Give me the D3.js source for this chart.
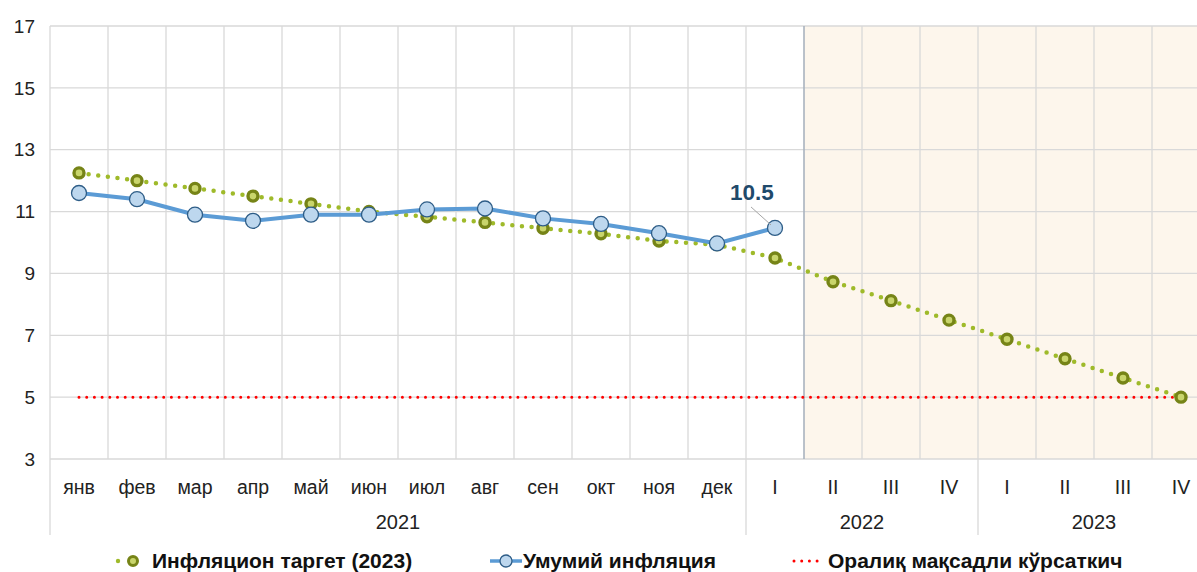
<!DOCTYPE html>
<html><head><meta charset="utf-8">
<script src="https://cdn.jsdelivr.net/npm/d3@7"></script>
<style>html,body{margin:0;padding:0;background:#fff;overflow:hidden}text{font-family:"Liberation Sans",Arial,sans-serif}</style>
</head><body><svg id="c" width="1197" height="572"></svg>
<script>
const categories = ["янв","фев","мар","апр","май","июн","июл","авг","сен","окт","ноя","дек","I","II","III","IV","I","II","III","IV"];
const years = [{label:"2021", start:0, end:12},{label:"2022", start:12, end:16},{label:"2023", start:16, end:20}];
const targetValues = [12.25,12.0,11.75,11.5,11.25,11.0,10.83,10.65,10.46,10.28,10.05,9.93,9.5,8.73,8.12,7.49,6.87,6.24,5.62,5.0];
const inflationValues = [11.6,11.4,10.9,10.7,10.9,10.9,11.07,11.1,10.78,10.6,10.3,9.97,10.47];
const corridorValues = Array(20).fill(5);
const yTicks = [3,5,7,9,11,13,15,17];
const forecastStart = 13;
const legendLabels = ["Инфляцион таргет (2023)","Умумий инфляция","Оралиқ мақсадли кўрсаткич"];

const svg = d3.select("#c");
const mLeft = 50, mTop = 26, mBottom = 459, bandW = 58;
const x = d3.scaleBand().domain(d3.range(categories.length)).range([mLeft, mLeft + bandW*categories.length]).paddingInner(0).paddingOuter(0);
const y = d3.scaleLinear().domain([3,17]).range([mBottom, mTop]);
const cx = i => x(i) + x.bandwidth()/2;
const mRight = x.range()[1];

// forecast shading
svg.append("rect").attr("x", x(forecastStart)).attr("y", mTop).attr("width", mRight - x(forecastStart)).attr("height", mBottom - mTop).attr("fill", "#fdf6ec");

// grid
const grid = svg.append("g");
grid.selectAll("line.h").data(yTicks).join("line").attr("x1", mLeft).attr("x2", mRight).attr("y1", d=>y(d)).attr("y2", d=>y(d)).attr("stroke", "#d9d9d9").attr("stroke-width", 1.3);
grid.selectAll("line.v").data(d3.range(1, categories.length)).join("line").attr("x1", d=>x(d)).attr("x2", d=>x(d)).attr("y1", mTop).attr("y2", mBottom).attr("stroke", d => d===forecastStart ? "#a9b3bf" : "#d9d9d9").attr("stroke-width", d => d===forecastStart ? 1.6 : 1.3);
const seps = [0, years[1].start, years[2].start];
grid.selectAll("line.s").data(seps).join("line").attr("x1", d=>x(d)).attr("x2", d=>x(d)).attr("y1", d => d===0 ? mTop : mBottom).attr("y2", 535).attr("stroke", "#d9d9d9").attr("stroke-width", 1.3);

// y axis labels
svg.append("g").selectAll("text").data(yTicks).join("text").attr("x", 35).attr("y", d=>y(d)).attr("dy", "0.35em").attr("text-anchor", "end").attr("font-size", 19).attr("fill", "#222").text(d=>d);

// category labels
svg.append("g").selectAll("text").data(categories).join("text").attr("x", (d,i)=>cx(i)).attr("y", 494).attr("text-anchor", "middle").attr("font-size", 19.5).attr("fill", "#222").text(d=>d);
svg.append("g").selectAll("text").data(years).join("text").attr("x", d => (x(d.start) + (d.end < categories.length ? x(d.end) : mRight))/2).attr("y", 529).attr("text-anchor", "middle").attr("font-size", 20).attr("fill", "#222").text(d=>d.label);

// corridor line
const line = d3.line().x((d,i)=>cx(i)).y(d=>y(d));
svg.append("path").attr("d", line(corridorValues)).attr("fill","none").attr("stroke","#ff0000").attr("stroke-width",3).attr("stroke-linecap","round").attr("stroke-dasharray","0 7.7");

// target line
svg.append("path").attr("d", line(targetValues)).attr("fill","none").attr("stroke","#9fba2a").attr("stroke-width",4.5).attr("stroke-linecap","round").attr("stroke-dasharray","0 9.7");
svg.append("g").selectAll("circle").data(targetValues).join("circle").attr("cx",(d,i)=>cx(i)).attr("cy",d=>y(d)).attr("r",5).attr("fill","#c9d56c").attr("stroke","#768417").attr("stroke-width",3.4);

// inflation line
svg.append("path").attr("d", line(inflationValues)).attr("fill","none").attr("stroke","#5b9bd5").attr("stroke-width",4);
svg.append("g").selectAll("circle").data(inflationValues).join("circle").attr("cx",(d,i)=>cx(i)).attr("cy",d=>y(d)).attr("r",7.5).attr("fill","#bdd7ee").attr("stroke","#2e5d87").attr("stroke-width",1.3);

// data label
const li = inflationValues.length - 1;
svg.append("line").attr("x1", cx(li)-24).attr("y1", y(inflationValues[li])-21).attr("x2", cx(li)-4).attr("y2", y(inflationValues[li])-3).attr("stroke","#a6a6a6").attr("stroke-width",1);
svg.append("text").attr("x", cx(li)-23).attr("y", y(inflationValues[li])-28).attr("text-anchor","middle").attr("font-size",22.5).attr("font-weight","bold").attr("fill","#1f4a6b").text(inflationValues[li].toFixed(1));

// legend
const lg = svg.append("g").attr("font-size",21).attr("font-weight","bold").attr("fill","#111");
const ly = 561, lb = 568;
lg.append("circle").attr("cx",118).attr("cy",ly).attr("r",2.2).attr("fill","#9fba2a");
lg.append("circle").attr("cx",133).attr("cy",ly).attr("r",4.5).attr("fill","#c9d56c").attr("stroke","#768417").attr("stroke-width",3);
lg.append("text").attr("x",152).attr("y",lb).text(legendLabels[0]);
lg.append("line").attr("x1",490).attr("x2",522).attr("y1",ly).attr("y2",ly).attr("stroke","#5b9bd5").attr("stroke-width",3.5);
lg.append("circle").attr("cx",506).attr("cy",ly).attr("r",6).attr("fill","#bdd7ee").attr("stroke","#2e5d87").attr("stroke-width",1.3);
lg.append("text").attr("x",523).attr("y",lb).text(legendLabels[1]);
lg.append("line").attr("x1",794).attr("x2",820).attr("y1",ly).attr("y2",ly).attr("stroke","#ff0000").attr("stroke-width",3).attr("stroke-linecap","round").attr("stroke-dasharray","0 7.7");
lg.append("text").attr("x",828).attr("y",lb).text(legendLabels[2]);
</script></body></html>
